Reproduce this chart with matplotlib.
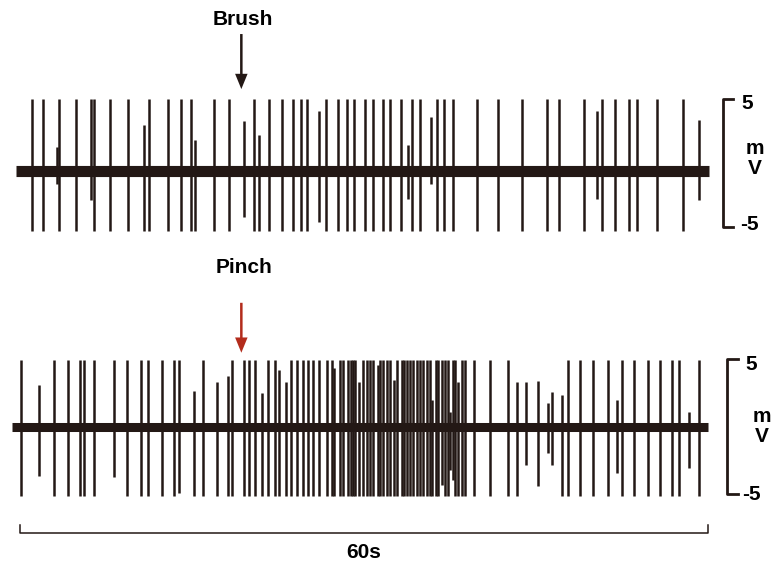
import matplotlib
import matplotlib.pyplot as plt

matplotlib.use('Agg')
plt.rcParams['font.family'] = ['Liberation Sans', 'DejaVu Sans']
plt.rcParams['font.weight'] = 'bold'

INK = '#231815'
RED = '#b32c1c'

# spike times (s) of full-height spikes
brush_spikes = [1.72, 2.73, 4.10, 5.58, 7.18, 8.55, 10.09, 11.92, 13.63, 14.74,
                15.61, 17.64, 18.90, 21.08, 22.44, 23.52, 24.53, 25.20, 25.73,
                27.38, 28.40, 29.19, 29.85, 30.78, 31.51, 32.38, 32.96, 33.92,
                34.86, 35.58, 37.04, 37.67, 38.46, 40.52, 42.41, 44.50, 46.63,
                47.70, 49.86, 51.48, 52.59, 53.83, 54.48, 56.25, 58.54]
# smaller spikes: time, peak up (mV), peak down (mV)
brush_small_t = [3.90, 6.86, 11.51, 15.96, 20.21, 21.57, 26.80, 34.56, 36.54, 50.99, 59.94]
brush_small_up = [1.9, 5.6, 3.6, 2.4, 3.9, 2.8, 4.7, 2.0, 4.2, 4.7, 4.0]
brush_small_dn = [-1.0, -2.3, -4.7, -4.7, -3.6, -4.7, -4.0, -2.2, -1.0, -2.2, -2.3]
brush_up, brush_dn = 5.6, -4.7

pinch_spikes = [0.78, 3.69, 4.91, 5.93, 6.28, 7.15, 10.03, 11.28, 11.86, 13.11,
                14.15, 16.68, 19.21, 20.26, 20.64, 21.19, 22.35, 22.94, 24.33,
                24.83, 25.38, 25.81, 26.25, 26.77, 27.47, 27.91, 28.60, 28.86,
                29.30, 29.56, 29.74, 29.91, 30.61, 30.96, 31.22, 31.48, 32.09,
                32.35, 32.70, 32.96, 33.58, 34.01, 34.19, 34.45, 34.71, 34.97,
                35.32, 35.58, 35.84, 36.19, 36.45, 36.98, 37.15, 37.76, 38.02,
                38.63, 39.24, 39.50, 40.29, 41.69, 43.28, 48.46, 49.53, 50.69,
                52.00, 53.17, 54.27, 55.49, 56.51, 57.53, 58.17, 59.94]
pinch_small_t = [2.38, 8.92, 14.56, 15.90, 17.85, 18.81, 21.78, 23.31, 23.87, 28.11,
                 30.26, 31.89, 33.34, 36.63, 37.50, 38.20, 38.48, 38.92, 44.07,
                 44.82, 45.90, 46.72, 47.07, 47.99, 52.73, 59.07]
pinch_small_up = [3.1, 5.0, 5.0, 2.7, 3.3, 3.8, 2.5, 4.2, 3.3, 4.4, 3.3, 4.6, 3.5,
                  2.0, 5.0, 1.1, 5.0, 3.3, 3.3, 3.3, 3.4, 1.8, 2.6, 2.4, 2.0, 1.1]
pinch_small_dn = [-3.6, -3.7, -4.9, -5.1, -5.1, -5.1, -5.1, -5.1, -5.1, -5.1, -5.1,
                  -5.1, -5.1, -5.1, -4.3, -3.2, -3.9, -5.1, -5.1, -2.8, -4.4, -1.9,
                  -2.8, -5.1, -3.4, -3.0]
pinch_up, pinch_dn = 5.0, -5.1

brush_trace = (0.35, 60.78)
pinch_trace = (0.0, 60.7)
stim_time = 20.0
scale_bar = (0.7, 60.7)

fig = plt.figure(figsize=(7.72, 5.68), dpi=100)
xlim = (-12 / 11.467, 760 / 11.467)

ax1 = fig.add_axes([0, 0, 1, 1])
ax1.set_xlim(*xlim)
ax1.set_ylim(-(568 - 171) / 12.8, 171 / 12.8)
ax2 = fig.add_axes([0, 0, 1, 1])
ax2.set_xlim(*xlim)
ax2.set_ylim(-(568 - 427) / 13.5, 427 / 13.5)
for ax in (ax1, ax2):
    ax.axis('off')
    ax.patch.set_alpha(0)

arrow = 'simple,head_length=1.1,head_width=0.9,tail_width=0.18'

# top trace
ax1.hlines(0, *brush_trace, color=INK, lw=8.0, capstyle='butt')
ax1.vlines(brush_spikes, brush_dn, brush_up, color=INK, lw=1.8)
ax1.vlines(brush_small_t, brush_small_dn, brush_small_up, color=INK, lw=1.8)
ax1.text(stim_time + 0.15, 11.8, 'Brush', ha='center', va='center', fontsize=15, fontweight='bold')
ax1.annotate('', xy=(stim_time, 6.4), xytext=(stim_time, 10.7),
             arrowprops=dict(arrowstyle=arrow, color=INK, lw=0, shrinkA=0, shrinkB=0))
# mV bracket
ax1.plot([62.85, 62.03, 62.03, 62.85], [5.63, 5.63, -4.38, -4.38], color=INK, lw=2.0)
ax1.text(64.1, 5.3, '5', ha='center', va='center', fontsize=15)
ax1.text(64.3, -4.2, '-5', ha='center', va='center', fontsize=15)
ax1.text(64.8, 1.72, 'm', ha='center', va='center', fontsize=15)
ax1.text(64.8, 0.16, 'V', ha='center', va='center', fontsize=15)

# bottom trace
ax2.hlines(0, *pinch_trace, color=INK, lw=6.5, capstyle='butt')
ax2.vlines(pinch_spikes, pinch_dn, pinch_up, color=INK, lw=1.8)
ax2.vlines(pinch_small_t, pinch_small_dn, pinch_small_up, color=INK, lw=1.8)
ax2.text(stim_time + 0.2, 11.85, 'Pinch', ha='center', va='center', fontsize=15, fontweight='bold')
ax2.annotate('', xy=(stim_time, 5.5), xytext=(stim_time, 9.2),
             arrowprops=dict(arrowstyle=arrow, color=RED, lw=0, shrinkA=0, shrinkB=0))
ax2.plot([63.34, 62.38, 62.38, 63.34], [5.04, 5.04, -4.96, -4.96], color=INK, lw=2.0)
ax2.text(64.45, 4.6, '5', ha='center', va='center', fontsize=15)
ax2.text(64.5, -5.0, '-5', ha='center', va='center', fontsize=15)
ax2.text(65.4, 0.81, 'm', ha='center', va='center', fontsize=15)
ax2.text(65.4, -0.74, 'V', ha='center', va='center', fontsize=15)

# time scale bar
x0, x1 = scale_bar
ax2.plot([x0, x0, x1, x1], [-7.26, -7.85, -7.85, -7.26], color=INK, lw=1.1)
ax2.text((x0 + x1) / 2, -9.33, '60s', ha='center', va='center', fontsize=15)

fig.savefig('out.png', dpi=100)
